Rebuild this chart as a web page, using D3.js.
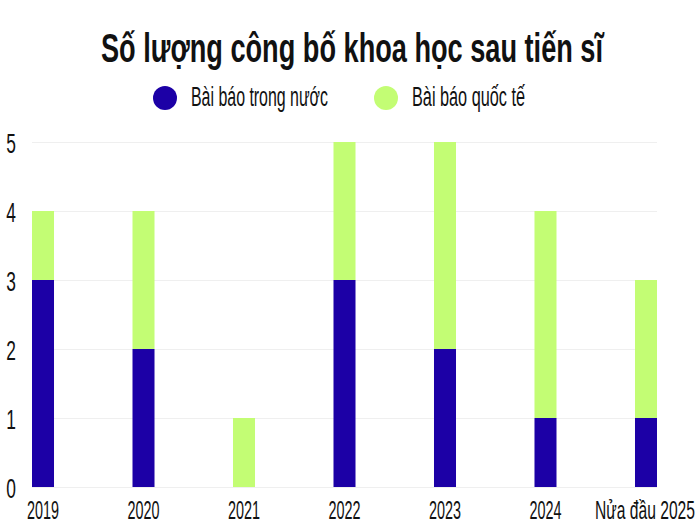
<!DOCTYPE html>
<html><head><meta charset="utf-8">
<script src="https://cdn.jsdelivr.net/npm/d3@7"></script>
<style>
html,body{margin:0;padding:0;background:#fff;}
text{font-family:"Liberation Sans",Arial,sans-serif;}
</style></head>
<body>
<svg id="c" width="700" height="525"></svg>
<script>
const categories = ["2019","2020","2021","2022","2023","2024","Nửa đầu 2025"];
const domestic = [3,2,0,3,2,1,1];
const international = [1,2,1,2,3,3,2];
const seriesNames = ["Bài báo trong nước","Bài báo quốc tế"];
const seriesColors = ["#1c00a6","#c3fd74"];
const yTicks = [0,1,2,3,4,5];
const titleText = "Số lượng công bố khoa học sau tiến sĩ";

function squeeze(sel, target){
  sel.each(function(d){
    const w = this.getComputedTextLength();
    const t = target(d, w);
    d3.select(this).attr("textLength", t).attr("lengthAdjust","spacingAndGlyphs");
  });
}

const svg = d3.select("#c");
const x = d3.scaleBand().domain(categories).range([32,657]).paddingInner(0.781).paddingOuter(0).align(0);
const y = d3.scaleLinear().domain([0,5]).range([487,142]);

// gridlines
svg.append("g").selectAll("line").data(yTicks).join("line")
  .attr("x1",32).attr("x2",657).attr("y1",d=>y(d)+0.5).attr("y2",d=>y(d)+0.5)
  .attr("stroke","#efefef").attr("stroke-width",1);

const data = categories.map((c,i)=>({cat:c, domestic:domestic[i], international:international[i]}));
const stack = d3.stack().keys(["domestic","international"])(data);
svg.append("g").selectAll("g").data(stack).join("g")
  .attr("fill",(d,i)=>seriesColors[i])
  .selectAll("rect").data(d=>d).join("rect")
  .attr("x",d=>x(d.data.cat)).attr("width",x.bandwidth())
  .attr("y",d=>y(d[1])).attr("height",d=>y(d[0])-y(d[1]));

// y axis labels
const yAxis = d3.axisLeft(y).tickValues(yTicks).tickFormat(d3.format("d")).tickSize(0).tickPadding(0);
const yg = svg.append("g").attr("transform","translate(11,0)").call(yAxis);
yg.select(".domain").remove();
yg.selectAll("text").attr("font-size",28).attr("fill","#111").attr("font-family",null)
  .attr("text-anchor","middle").attr("x",0).attr("dy","0.36em").call(squeeze, (d,w)=>w*0.62);

// x axis labels
const xAxis = d3.axisBottom(x).tickSize(0).tickPadding(0);
const xg = svg.append("g").attr("transform","translate(0,519)").call(xAxis);
xg.select(".domain").remove();
xg.selectAll(".tick").attr("transform",d=>`translate(${x(d)+x.bandwidth()/2},0)`);
xg.selectAll("text").attr("font-size",26).attr("fill","#111").attr("font-family",null)
  .attr("y",0).attr("dy",0).call(squeeze, (d,w)=> d===categories[categories.length-1] ? 100 : 32);
// keep last label inside the frame like the reference
xg.selectAll("text").filter(d=>d===categories[categories.length-1])
  .attr("text-anchor","end").attr("x",function(){return 695-(x(categories[categories.length-1])+x.bandwidth()/2);});

// title
svg.append("text").attr("x",352).attr("y",62).attr("text-anchor","middle")
  .attr("font-size",40).attr("font-weight","bold").attr("fill","#111")
  .attr("textLength",502).attr("lengthAdjust","spacingAndGlyphs").text(titleText);

// legend
const lx = [165,386];
const legendW = [137,113];
const lg = svg.append("g").selectAll("g").data(seriesNames).join("g")
  .attr("transform",(d,i)=>`translate(${lx[i]},98)`);
lg.append("circle").attr("r",12).attr("fill",(d,i)=>seriesColors[i]);
lg.append("text").attr("x",26).attr("y",8).attr("font-size",27).attr("fill","#111")
  .attr("textLength",(d,i)=>legendW[i]).attr("lengthAdjust","spacingAndGlyphs").text(d=>d);
</script>
</body></html>
